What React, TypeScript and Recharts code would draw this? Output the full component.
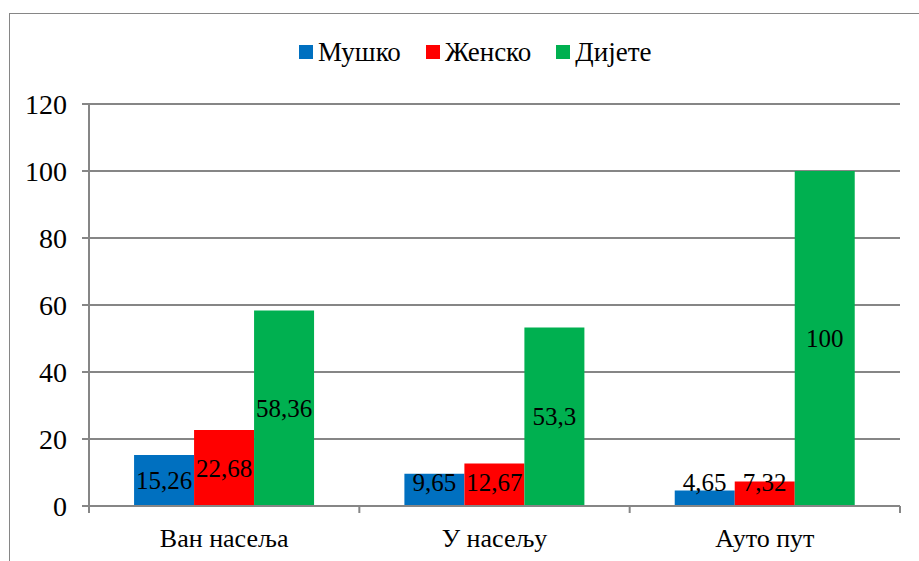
import { BarChart, Bar, XAxis, YAxis, CartesianGrid, LabelList } from 'recharts'

const categories = ['Ван насеља', 'У насељу', 'Ауто пут']
const musko = [15.26, 9.65, 4.65]
const zensko = [22.68, 12.67, 7.32]
const dijete = [58.36, 53.3, 100]
const yTicks = [0, 20, 40, 60, 80, 100, 120]

const SERIES = [
  { key: 'musko', name: 'Мушко', color: '#0070C0' },
  { key: 'zensko', name: 'Женско', color: '#FF0000' },
  { key: 'dijete', name: 'Дијете', color: '#00B050' },
]

const data = categories.map((c, i) => ({
  category: c,
  musko: musko[i],
  zensko: zensko[i],
  dijete: dijete[i],
}))

const FONT = "'Liberation Serif', Tinos, 'Times New Roman', FreeSerif, serif"
const AXIS = '#868686'
const W = 919
const H = 561
const MARGIN = { top: 104, right: 19, bottom: 0, left: 9 }
const Y_WIDTH = 80
const BAND = (W - MARGIN.left - Y_WIDTH - MARGIN.right) / categories.length

function CategoryTick(props: any) {
  const { x, y, payload, index } = props
  const half = BAND / 2
  return (
    <g>
      {index === 0 && (
        <line x1={x - half} x2={x - half} y1={y - 7} y2={y} stroke={AXIS} strokeWidth={2} />
      )}
      <line x1={x + half} x2={x + half} y1={y - 7} y2={y} stroke={AXIS} strokeWidth={2} />
      <text x={x} y={y + 34} textAnchor="middle" fontFamily={FONT} style={{ fontSize: 26, fontFamily: FONT }} fill="#000">
        {payload.value}
      </text>
    </g>
  )
}

function ValueLabel(props: any) {
  const { x, y, width, height, value } = props
  const bottom = y + height
  const cy = Math.min(y + height / 2, bottom - 24)
  return (
    <text
      x={x + width / 2}
      y={cy}
      textAnchor="middle"
      dominantBaseline="central"
      fontFamily={FONT}
      style={{ fontSize: 25, fontFamily: FONT }}
      fill="#000"
    >
      {String(value).replace('.', ',')}
    </text>
  )
}

function ChartLegend() {
  return (
    <div
      style={{
        position: 'absolute',
        top: 38,
        left: 299,
        display: 'flex',
        alignItems: 'center',
        gap: 25,
        fontFamily: FONT,
        fontSize: 27,
        lineHeight: '28px',
        color: '#000',
      }}
    >
      {SERIES.map((s) => (
        <div key={s.key} style={{ display: 'flex', alignItems: 'center', gap: 5 }}>
          <span style={{ display: 'inline-block', width: 14, height: 14, background: s.color }} />
          <span style={{ fontFamily: FONT }}>{s.name}</span>
        </div>
      ))}
    </div>
  )
}

export default function App() {
  return (
    <div
      style={{
        position: 'absolute',
        left: 0,
        top: 0,
        width: W,
        height: H,
        overflow: 'hidden',
        background: '#fff',
        fontFamily: FONT,
      }}
    >
      <div
        style={{
          position: 'absolute',
          left: 9,
          top: 13,
          width: 940,
          height: 600,
          border: `1.5px solid ${AXIS}`,
        }}
      />
      <ChartLegend />
      <div style={{ position: 'absolute', left: 0, top: 0 }}>
        <BarChart
          width={W}
          height={H}
          data={data}
          margin={MARGIN}
          barGap={0}
          barCategoryGap="16.67%"
        >
          <CartesianGrid vertical={false} stroke={AXIS} strokeWidth={2} />
          <XAxis
            dataKey="category"
            height={55}
            axisLine={{ stroke: AXIS, strokeWidth: 2 }}
            tickLine={false}
            tickSize={7}
            tickMargin={0}
            tick={<CategoryTick />}
            interval={0}
          />
          <YAxis
            width={Y_WIDTH}
            domain={[0, 120]}
            ticks={yTicks}
            axisLine={{ stroke: AXIS, strokeWidth: 2 }}
            tickLine={{ stroke: AXIS, strokeWidth: 2 }}
            tickSize={7}
            tickMargin={15}
            tick={{ fontSize: 28, fontFamily: FONT, fill: '#000' }}
          />
          {SERIES.map((s) => (
            <Bar key={s.key} dataKey={s.key} name={s.name} fill={s.color} isAnimationActive={false}>
              <LabelList dataKey={s.key} content={<ValueLabel />} />
            </Bar>
          ))}
        </BarChart>
      </div>
    </div>
  )
}
